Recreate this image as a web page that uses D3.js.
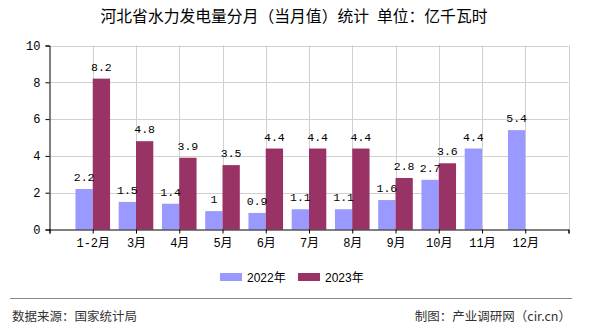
<!DOCTYPE html>
<html><head><meta charset="utf-8">
<script src="https://cdn.jsdelivr.net/npm/d3@7"></script>
<style>body{margin:0;background:#fff}svg{display:block}text{white-space:pre}</style>
</head><body><svg id="c" width="590" height="330"></svg>
<script>
const categories = ["1-2月","3月","4月","5月","6月","7月","8月","9月","10月","11月","12月"];
const series2022 = [2.2,1.5,1.4,1,0.9,1.1,1.1,1.6,2.7,4.4,5.4];
const series2023 = [8.2,4.8,3.9,3.5,4.4,4.4,4.4,2.8,3.6,null,null];
const seriesNames = ["2022年","2023年"];
const yTicks = [0,2,4,6,8,10];
const colors = ["#9999ff","#993366"];

const svg = d3.select("#c");
const monoFont = "'Liberation Mono','DejaVu Sans Mono','Noto Sans CJK SC',monospace";
const cjk = "'Noto Sans CJK SC',sans-serif";
const x = d3.scaleLinear().domain([0, categories.length + 1]).range([49.5, 568.5]);
const y = d3.scaleLinear().domain([0, 10]).range([229.5, 45.5]);
const bw = 17.3;

svg.append("text").attr("x", 294).attr("y", 21.5).attr("text-anchor","middle")
  .attr("font-family", cjk).attr("font-size", 15.8).attr("fill","#000")
  .text("河北省水力发电量分月（当月值）统计\u2002单位：亿千瓦时");

// grid
const g = svg.append("g");
g.selectAll("line.h").data(yTicks.filter(d=>d>0)).join("line")
  .attr("x1", x(0)).attr("x2", x(12)).attr("y1", d=>Math.round(y(d))+0.5).attr("y2", d=>Math.round(y(d))+0.5)
  .attr("stroke","#d0d0d0").attr("stroke-width",1);
g.selectAll("line.v").data(d3.range(1,13)).join("line")
  .attr("x1", d=>Math.round(x(d))+0.5).attr("x2", d=>Math.round(x(d))+0.5).attr("y1", y(10)).attr("y2", y(0))
  .attr("stroke","#d0d0d0").attr("stroke-width",1);

// bars
const data = categories.map((c,i)=>({c,i,a:series2022[i],b:series2023[i]}));
svg.append("g").selectAll("rect").data(data.filter(d=>d.a!=null)).join("rect")
  .attr("x", d=>x(d.i+1)-bw).attr("width", bw)
  .attr("y", d=>y(d.a)).attr("height", d=>y(0)-y(d.a)).attr("fill", colors[0]);
svg.append("g").selectAll("rect").data(data.filter(d=>d.b!=null)).join("rect")
  .attr("x", d=>x(d.i+1)).attr("width", bw)
  .attr("y", d=>y(d.b)).attr("height", d=>y(0)-y(d.b)).attr("fill", colors[1]);

// value labels
const lab = svg.append("g").attr("font-family", monoFont).attr("font-size", 11.5).attr("fill","#000").attr("text-anchor","middle");
lab.selectAll("text.a").data(data.filter(d=>d.a!=null)).join("text")
  .attr("x", d=>x(d.i+1)-bw/2).attr("y", d=>y(d.a)-8).text(d=>d.a);
lab.selectAll("text.b").data(data.filter(d=>d.b!=null)).join("text")
  .attr("x", d=>x(d.i+1)+bw/2).attr("y", d=>y(d.b)-8).text(d=>d.b);

// axes
const yAxis = d3.axisLeft(y).tickValues(yTicks).tickSize(4).tickPadding(5);
const ya = svg.append("g").attr("transform","translate(49.5,0)").call(yAxis);
ya.select(".domain").attr("stroke","#000");
ya.selectAll("text").attr("font-family", monoFont).attr("font-size",12).attr("fill","#000");

const xAxis = d3.axisBottom(x).tickValues(d3.range(0,13)).tickSize(4).tickPadding(5)
  .tickFormat(d=> (d>=1 && d<=categories.length) ? categories[d-1] : "");
const xa = svg.append("g").attr("transform","translate(0,229.5)").call(xAxis);
xa.select(".domain").attr("stroke","#000");
xa.selectAll("text").attr("font-family", monoFont).attr("font-size",12).attr("fill","#000");

// legend
const leg = svg.append("g").attr("font-family","'Liberation Sans',Arial,'Noto Sans CJK SC',sans-serif").attr("font-size",12);
const legX = [220, 298];
seriesNames.forEach((n,i)=>{
  leg.append("rect").attr("x", legX[i]).attr("y", 273).attr("width", 22).attr("height", 8).attr("fill", colors[i]);
  leg.append("text").attr("x", legX[i]+27).attr("y", 281.5).attr("fill","#000").text(n);
});

// footer
svg.append("line").attr("x1",10).attr("x2",572).attr("y1",298.5).attr("y2",298.5).attr("stroke","#888").attr("stroke-width",1);
svg.append("text").attr("x",12).attr("y",321).attr("font-family",cjk).attr("font-size",12.5).attr("fill","#333").text("数据来源：国家统计局");
svg.append("text").attr("x",571).attr("y",321).attr("text-anchor","end").attr("font-family",cjk).attr("font-size",12.5).attr("fill","#333").text("制图：产业调研网（cir.cn）");
</script></body></html>
